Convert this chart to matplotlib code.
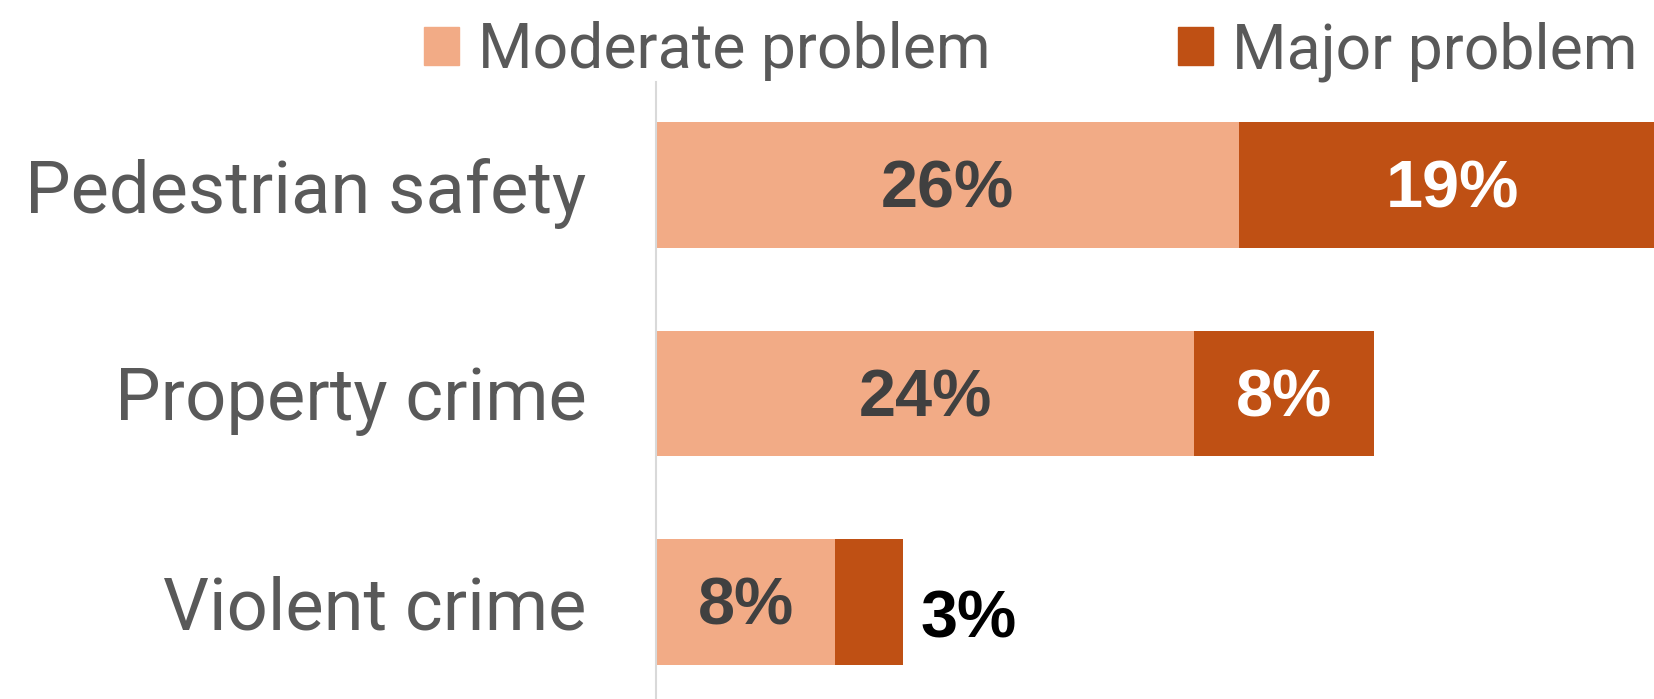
import matplotlib.pyplot as plt
from matplotlib.patches import Patch

categories = ["Pedestrian safety", "Property crime", "Violent crime"]
moderate = [26, 24, 8]
major = [19, 8, 3]

c_mod = "#F2AB86"
c_maj = "#BF5014"

fig = plt.figure(figsize=(16.54, 6.99), dpi=100)
ax = fig.add_axes([0.3966, 0.0, 0.6034, 0.8827])

y = list(range(len(categories)))
ax.barh(y, moderate, height=0.6, color=c_mod)
ax.barh(y, major, left=moderate, height=0.6, color=c_maj)

ax.set_xlim(0, 44.5)
ax.set_ylim(2.465, -0.494)

ax.set_yticks(y)
ax.set_yticklabels(categories, fontsize=52, color="#595959", family="Roboto")
ax.tick_params(axis="y", length=0, pad=50)
ax.set_xticks([])
for s in ["top", "right", "bottom"]:
    ax.spines[s].set_visible(False)
ax.spines["left"].set_color("#D9D9D9")
ax.spines["left"].set_linewidth(1.5)

lab = dict(fontsize=48, fontweight="bold", family="Liberation Sans",
           textcoords="offset points", va="center")
for i in y:
    ax.annotate(f"{moderate[i]}%", (moderate[i] / 2, i), xytext=(0, -4),
                ha="center", color="#404040", **lab)
    if major[i] >= 5:
        ax.annotate(f"{major[i]}%", (moderate[i] + major[i] / 2, i),
                    xytext=(0, -4), ha="center", color="white", **lab)
    else:
        ax.annotate(f"{major[i]}%", (moderate[i] + major[i], i),
                    xytext=(13, -13), ha="left", color="black", **lab)

handles = [Patch(color=c_mod), Patch(color=c_maj)]
fig.legend(handles, ["Moderate problem", "Major problem"], ncol=2,
           loc="upper right", bbox_to_anchor=(1.024, 1.05), frameon=False,
           prop={"family": "Roboto", "size": 45}, labelcolor="#595959",
           handlelength=0.56, handleheight=0.56, handletextpad=0.3,
           columnspacing=3.0)

fig.savefig("out.png", dpi=100)
